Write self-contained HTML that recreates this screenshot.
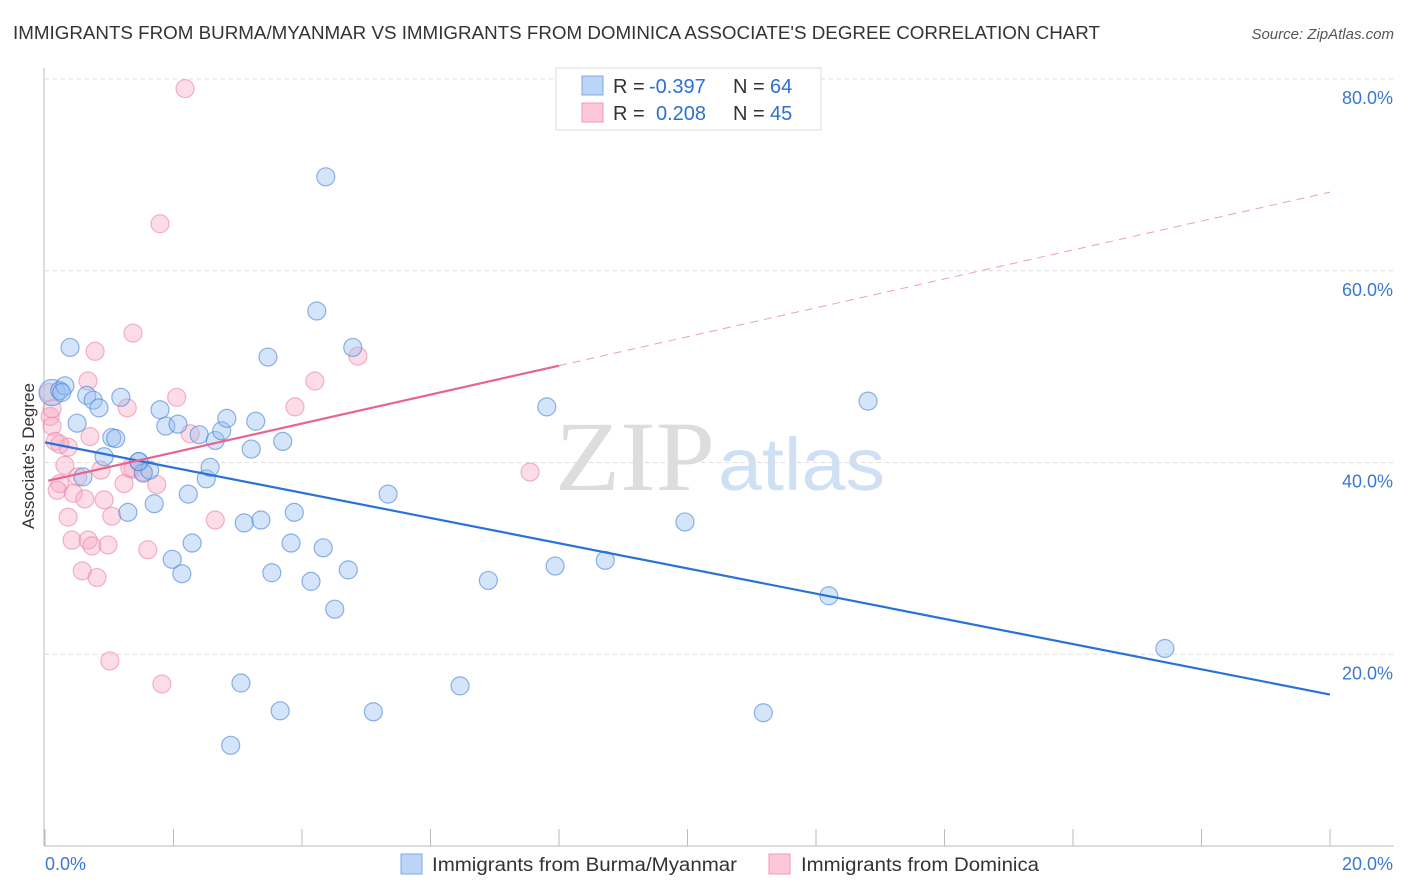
<!DOCTYPE html>
<html><head><meta charset="utf-8"><style>
body{margin:0;background:#fff;font-family:"Liberation Sans",sans-serif}
</style></head><body>
<svg id="c" width="1406" height="892" xmlns="http://www.w3.org/2000/svg" style="display:block">
<text x="13" y="39" font-size="18" fill="#333" textLength="1087" lengthAdjust="spacingAndGlyphs">IMMIGRANTS FROM BURMA/MYANMAR VS IMMIGRANTS FROM DOMINICA ASSOCIATE'S DEGREE CORRELATION CHART</text>
<text x="1394" y="39" font-size="15" fill="#555" text-anchor="end" font-style="italic">Source: ZipAtlas.com</text>
<text x="555" y="490" font-size="100" fill="#ddd" font-family="Liberation Serif" textLength="160" lengthAdjust="spacingAndGlyphs">ZIP</text>
<text x="718" y="490" font-size="74" fill="#cfe0f5" textLength="167" lengthAdjust="spacingAndGlyphs">atlas</text>
<g id="grid"></g>
<g id="marks"></g>
<text transform="translate(34,456) rotate(-90)" font-size="17" fill="#333" text-anchor="middle">Associate's Degree</text>
<g>
<rect x="556" y="68" width="265" height="62" fill="#fff" stroke="#ddd"/>
<rect x="582" y="76" width="21" height="19" fill="#bcd4f6" stroke="#7fa8e6"/>
<rect x="582" y="103" width="21" height="19" fill="#fcc8d8" stroke="#ef9ab5"/>
<text x="613" y="93" font-size="20" fill="#333">R = <tspan fill="#2f6fd0" x="649">-0.397</tspan><tspan x="733">N = </tspan><tspan fill="#2f6fd0" x="770">64</tspan></text>
<text x="613" y="120" font-size="20" fill="#333">R = <tspan fill="#2f6fd0" x="656">0.208</tspan><tspan x="733">N = </tspan><tspan fill="#2f6fd0" x="770">45</tspan></text>
</g>
<g>
<rect x="401" y="854" width="21" height="20" fill="#bcd4f6" stroke="#7fa8e6"/>
<text x="432" y="871" font-size="19" fill="#333" textLength="305" lengthAdjust="spacingAndGlyphs">Immigrants from Burma/Myanmar</text>
<rect x="769" y="854" width="21" height="20" fill="#fcc8d8" stroke="#ef9ab5"/>
<text x="801" y="871" font-size="19" fill="#333" textLength="238" lengthAdjust="spacingAndGlyphs">Immigrants from Dominica</text>
</g>
</svg>
<script>
const yTicks=[20,40,60,80];
const xTickLabels=["0.0%","20.0%"];
const blueX=[0.11,0.23,0.31,0.39,0.26,0.65,0.75,0.84,0.50,1.04,1.10,1.18,0.92,0.59,1.29,1.46,1.53,1.63,1.70,1.79,1.88,2.07,2.23,2.40,1.98,2.13,2.29,2.51,2.57,2.65,2.75,2.83,3.21,3.28,3.47,3.70,3.36,3.10,3.88,3.83,3.53,4.14,4.33,4.23,4.37,4.72,4.51,4.79,5.34,3.05,3.66,2.89,5.11,6.46,6.90,7.81,7.94,8.72,9.96,11.18,12.20,12.81,17.43,1.46];
const blueY=[47.3,47.5,48.0,52.0,47.3,47.0,46.5,45.7,44.1,42.6,42.5,46.8,40.6,38.5,34.8,40.1,38.9,39.2,35.7,45.5,43.8,44.0,36.7,42.9,29.9,28.4,31.6,38.3,39.5,42.3,43.3,44.6,41.4,44.3,51.0,42.2,34.0,33.7,34.8,31.6,28.5,27.6,31.1,55.8,69.8,28.8,24.7,52.0,36.7,17.0,14.1,10.5,14.0,16.7,27.7,45.8,29.2,29.8,33.8,13.9,26.1,46.4,20.6,40.1];
const blueR=[13,9,9,9,9,9,9,9,9,9,9,9,9,9,9,9,9,9,9,9,9,9,9,9,9,9,9,9,9,9,9,9,9,9,9,9,9,9,9,9,9,9,9,9,9,9,9,9,9,9,9,9,9,9,9,9,9,9,9,9,9,9,9,9];
const pinkX=[2.18,1.79,1.37,0.78,0.67,4.87,4.20,2.05,1.28,3.89,0.08,0.11,0.70,2.26,0.16,0.36,0.23,0.31,0.51,0.87,1.37,1.74,1.23,0.23,0.19,0.44,0.62,0.92,1.04,0.36,0.42,0.67,0.73,0.98,1.60,2.65,0.58,0.81,7.55,1.01,1.82,0.06,0.11,1.53,1.32];
const pinkY=[79.0,64.9,53.5,51.6,48.5,51.1,48.5,46.8,45.7,45.8,44.8,43.8,42.7,43.0,42.2,41.6,41.9,39.7,38.5,39.2,39.3,37.7,37.8,37.8,37.1,36.8,36.2,36.1,34.4,34.3,31.9,31.9,31.3,31.4,30.9,34.0,28.7,28.0,39.0,19.3,16.9,47.3,45.6,39.0,39.4];
const blueLine=[[0,42.1],[20,15.8]];
const pinkSolid=[[0.05,38.1],[8.0,50.1]];
const pinkDash=[[8.0,50.1],[20,68.2]];
const X=v=>45+v/20*1285, Y=v=>846-v/80*767;
const NS="http://www.w3.org/2000/svg";
const grid=document.getElementById('grid'), marks=document.getElementById('marks');
function mk(tag,attrs,parent){const e=document.createElementNS(NS,tag);for(const k in attrs)e.setAttribute(k,attrs[k]);parent.appendChild(e);return e;}
yTicks.forEach(t=>{
 const l=mk('line',{x1:45,x2:1394,y1:Y(t),y2:Y(t),stroke:'#ddd','stroke-dasharray':'4,4'},grid);
 
 
 const tx=mk('text',{x:1393,y:Y(t)+25,'font-size':18,fill:'#3a78d4','text-anchor':'end'},grid);
 tx.textContent=t.toFixed(1)+'%';
 
 
});
const ax=mk('line',{x1:45,x2:1394,y1:846,y2:846,stroke:'#bbb'},grid);


const ay=mk('line',{x1:44,x2:44,y1:68,y2:846,stroke:'#bbb'},grid);


for(let i=0;i<=10;i++){const t=mk('line',{x1:X(i*2),x2:X(i*2),y1:829,y2:846,stroke:'#bbb'},grid);
 
 }
[[0,'start',45],[1,'end',1393]].forEach(([i,a,x])=>{const t=mk('text',{x:x,y:870,'font-size':18,fill:'#3a78d4','text-anchor':a},grid);t.textContent=xTickLabels[i];
 
 });
pinkX.forEach((v,i)=>{const c=mk('circle',{cx:X(v),cy:Y(pinkY[i]),r:9,fill:'rgba(248,170,195,0.4)',stroke:'rgba(236,130,165,0.6)','stroke-width':1.2},marks);
 
 });
blueX.forEach((v,i)=>{const c=mk('circle',{cx:X(v),cy:Y(blueY[i]),r:blueR[i],fill:'rgba(150,190,240,0.4)',stroke:'rgba(70,130,215,0.6)','stroke-width':1.2},marks);
 
 });
const bl=mk('line',{x1:X(blueLine[0][0]),y1:Y(blueLine[0][1]),x2:X(blueLine[1][0]),y2:Y(blueLine[1][1]),stroke:'#2872d8','stroke-width':2.2},marks);


const ps=mk('line',{x1:X(pinkSolid[0][0]),y1:Y(pinkSolid[0][1]),x2:X(pinkSolid[1][0]),y2:Y(pinkSolid[1][1]),stroke:'#e8648f','stroke-width':2.2},marks);


const pd=mk('line',{x1:X(pinkDash[0][0]),y1:Y(pinkDash[0][1]),x2:X(pinkDash[1][0]),y2:Y(pinkDash[1][1]),stroke:'#eaa0b8','stroke-width':1,'stroke-dasharray':'8,6'},marks);


</script>
</body></html>
